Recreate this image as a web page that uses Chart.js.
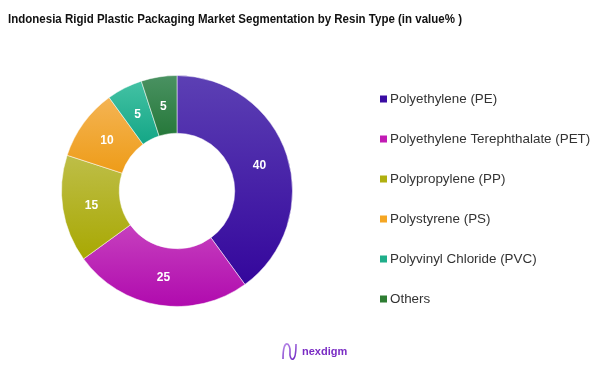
<!DOCTYPE html>
<html><head><meta charset="utf-8">
<script src="https://cdn.jsdelivr.net/npm/chart.js@4/dist/chart.umd.min.js"></script>
<style>html,body{margin:0;padding:0;background:#fff;}#wrap{width:602px;height:369px;position:relative;}</style>
</head><body><div id="wrap"><canvas id="c" width="602" height="369"></canvas></div>
<script>
const categories = ["Polyethylene (PE)", "Polyethylene Terephthalate (PET)", "Polypropylene (PP)", "Polystyrene (PS)", "Polyvinyl Chloride (PVC)", "Others"];
const shares = [40, 25, 15, 10, 5, 5];
const topColors = ["#5c40b4", "#c640be", "#bebe48", "#f4b454", "#44c2a4", "#4a9262"];
const bottomColors = ["#34069c", "#b00aae", "#a8a802", "#ee9c18", "#14a686", "#26783a"];
const legendColors = ["#3a0ca3", "#c21bb4", "#b0b010", "#f5a623", "#1fae8a", "#2e7d32"];
const titleText = "Indonesia Rigid Plastic Packaging Market Segmentation by Resin Type (in value% )";

function segGradient(ctx) {
  const chart = ctx.chart, i = ctx.dataIndex;
  const area = chart.chartArea;
  if (!area) return legendColors[i];
  const cx = (area.left + area.right) / 2, cy = (area.top + area.bottom) / 2;
  const R = Math.min(area.right - area.left, area.bottom - area.top) / 2, r = R * 0.5;
  const total = shares.reduce((a, b) => a + b, 0);
  let before = 0; for (let k = 0; k < i; k++) before += shares[k];
  const a0 = -Math.PI / 2 + before / total * 2 * Math.PI;
  const a1 = a0 + shares[i] / total * 2 * Math.PI;
  let ymin = Infinity, ymax = -Infinity;
  for (let s = 0; s <= 60; s++) {
    const a = a0 + (a1 - a0) * s / 60;
    for (const rr of [r, R]) { const y = cy + rr * Math.sin(a); ymin = Math.min(ymin, y); ymax = Math.max(ymax, y); }
  }
  const g = chart.ctx.createLinearGradient(0, ymin, 0, ymax);
  g.addColorStop(0, topColors[i]); g.addColorStop(1, bottomColors[i]);
  return g;
}

const extras = {
  id: 'extras',
  afterDatasetsDraw(chart) {
    const c = chart.ctx;
    const meta = chart.getDatasetMeta(0);
    c.save();
    c.font = 'bold 12px "Liberation Sans", Arial, sans-serif';
    c.fillStyle = '#ffffff'; c.textAlign = 'center'; c.textBaseline = 'middle';
    meta.data.forEach((arc, i) => {
      const p = arc.tooltipPosition();
      c.fillText(String(shares[i]), p.x, p.y + 1);
    });
    c.restore();
  },
  afterDraw(chart) {
    const c = chart.ctx;
    c.save();
    // title (condensed)
    c.font = 'bold 13.5px "Liberation Sans", Arial, sans-serif';
    c.fillStyle = '#111'; c.textAlign = 'left'; c.textBaseline = 'middle';
    const tw = c.measureText(titleText).width;
    const sx = 454 / tw;
    c.save();
    c.translate(8, 19);
    c.scale(sx, 1);
    c.fillText(titleText, 0, 0);
    c.restore();
    // legend
    c.font = '13.4px "Liberation Sans", Arial, sans-serif';
    categories.forEach((lab, i) => {
      const y = 99 + i * 40;
      c.fillStyle = legendColors[i];
      c.fillRect(380, y - 3.5, 7, 7);
      c.fillStyle = '#333';
      c.fillText(lab, 390, y + 0.5);
    });
    // logo
    const lg = c.createLinearGradient(282, 340, 296, 360);
    lg.addColorStop(0, '#c8a0f0'); lg.addColorStop(1, '#6a1fc0');
    c.strokeStyle = lg; c.lineWidth = 1.6;
    c.beginPath();
    c.moveTo(283, 359);
    c.bezierCurveTo(283, 336, 291, 344, 290, 352);
    c.bezierCurveTo(289, 360, 296, 366, 296, 344);
    c.stroke();
    c.font = 'bold 11px "Liberation Sans", Arial, sans-serif';
    c.fillStyle = '#7a2cc4';
    c.fillText('nexdigm', 302, 352);
    c.restore();
  }
};

new Chart(document.getElementById('c'), {
  type: 'doughnut',
  data: {
    labels: categories,
    datasets: [{
      data: shares,
      backgroundColor: segGradient,
      borderColor: 'rgba(255,255,255,0.5)',
      borderWidth: 1
    }]
  },
  options: {
    responsive: false,
    animation: false,
    cutout: '50%',
    layout: { padding: { left: 61, right: 309, top: 75, bottom: 62 } },
    plugins: { legend: { display: false }, tooltip: { enabled: false }, title: { display: false } }
  },
  plugins: [extras]
});
</script>
</body></html>
